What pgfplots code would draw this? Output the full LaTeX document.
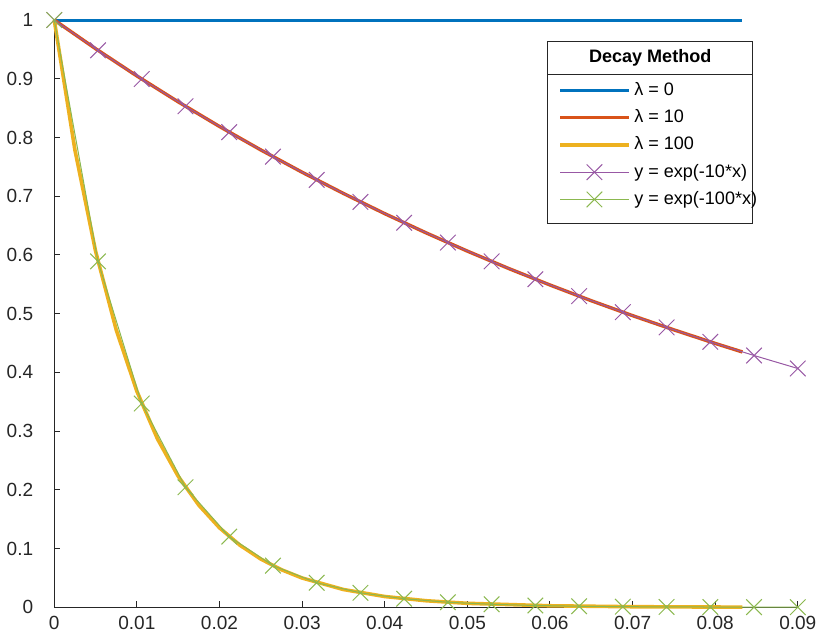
\documentclass[border=0pt]{standalone}
\usepackage{pgfplots}
\pgfplotsset{compat=1.18}
\usepackage{fontspec}
\setmainfont{Liberation Sans}

\definecolor{mblue}{rgb}{0,0.447,0.741}
\definecolor{mred}{rgb}{0.85,0.325,0.098}
\definecolor{myellow}{rgb}{0.929,0.694,0.125}
\definecolor{mpurple}{rgb}{0.494,0.184,0.556}
\definecolor{mgreen}{rgb}{0.466,0.674,0.188}
\definecolor{axgray}{gray}{0.15}

\begin{document}
\begin{tikzpicture}
\begin{axis}[
  scale only axis, width=371pt, height=293pt,
  xmin=0, xmax=0.09, ymin=0, ymax=1,
  scaled ticks=false,
  axis lines*=left, axis line style={axgray, line width=0.6pt},
  tick align=inside, major tick length=3pt, tick style={axgray, line width=0.5pt},
  xtick={0,0.01,...,0.09}, ytick={0,0.1,...,1},
  xticklabels={0,0.01,0.02,0.03,0.04,0.05,0.06,0.07,0.08,0.09},
  yticklabels={0,0.1,0.2,0.3,0.4,0.5,0.6,0.7,0.8,0.9,1},
  /pgf/number format/assume math mode=true,
  tick label style={font=\fontsize{9.5}{11}\selectfont, text=axgray},
  yticklabel style={xshift=-7pt},
  xticklabel style={yshift=-1pt},
  clip=false,
  legend style={at={(rel axis cs:0.675,0.905)}, anchor=north west, draw=none, fill=none,
    font=\fontsize{9}{11}\selectfont, row sep=1.6pt, inner sep=1pt},
  legend cell align=left,
  legend image code/.code={\draw[#1, mark repeat=2, mark phase=2] plot coordinates {(0pt,0pt) (17pt,0pt) (34pt,0pt)};},
]
\addplot[mblue, line width=1.5pt] coordinates {(0,1) (0.0833,1)};
\addlegendentry{λ = 0}
\addplot[mred, line width=1.7pt] coordinates {
(0,1) (0.005,0.9512) (0.01,0.9048) (0.015,0.8607) (0.02,0.8187) (0.025,0.7788)
(0.03,0.7408) (0.035,0.7047) (0.04,0.6703) (0.045,0.6376) (0.05,0.6065)
(0.055,0.5769) (0.06,0.5488) (0.065,0.5220) (0.07,0.4966) (0.075,0.4724)
(0.08,0.4493) (0.0833,0.4347)};
\addlegendentry{λ = 10}
\addplot[myellow, line width=1.8pt] coordinates {
(0,1) (0.0025,0.7788) (0.005,0.6065) (0.0075,0.4724) (0.01,0.3679) (0.0125,0.2865)
(0.015,0.2231) (0.0175,0.1738) (0.02,0.1353) (0.0225,0.1054) (0.025,0.0821)
(0.0275,0.0639) (0.03,0.0498) (0.035,0.0302) (0.04,0.0183) (0.045,0.0111)
(0.05,0.0067) (0.06,0.0025) (0.07,0.0009) (0.0833,0.0002)};
\addlegendentry{λ = 100}
\addplot[mpurple!80, line width=0.5pt, mark=x, mark size=5.5pt, mark options={line width=0.5pt}] coordinates {
(0,1) (0.005294,0.9484) (0.010588,0.8995) (0.015882,0.8531) (0.021176,0.8091)
(0.026471,0.7674) (0.031765,0.7278) (0.037059,0.6903) (0.042353,0.6547)
(0.047647,0.6210) (0.052941,0.5890) (0.058235,0.5586) (0.063529,0.5298)
(0.068824,0.5025) (0.074118,0.4766) (0.079412,0.4520) (0.084706,0.4287) (0.09,0.4066)};
\addlegendentry{y = exp(-10*x)}
\addplot[mgreen!85, line width=0.5pt, mark=x, mark size=5.5pt, mark options={line width=0.5pt}] coordinates {
(0,1) (0.005294,0.5890) (0.010588,0.3469) (0.015882,0.2043) (0.021176,0.1203)
(0.026471,0.0709) (0.031765,0.0417) (0.037059,0.0246) (0.042353,0.0145)
(0.047647,0.0085) (0.052941,0.0050) (0.058235,0.0030) (0.063529,0.0017)
(0.068824,0.0010) (0.074118,0.0006) (0.079412,0.0004) (0.084706,0.0002) (0.09,0.0001)};
\addlegendentry{y = exp(-100*x)}
\draw[axgray, line width=0.5pt, fill=white] (rel axis cs:0.664,0.654) rectangle (rel axis cs:0.939,0.964);
\draw[axgray, line width=0.5pt] (rel axis cs:0.664,0.908) -- (rel axis cs:0.939,0.908);
\node[font=\bfseries\fontsize{9}{11}\selectfont] at (rel axis cs:0.8015,0.936) {Decay Method};
\path (rel axis cs:0,1) ++(0,10pt);
\end{axis}
\end{tikzpicture}
\end{document}
